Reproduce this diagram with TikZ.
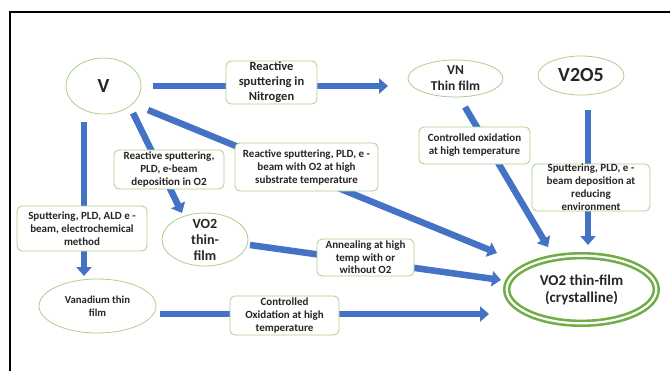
\documentclass[tikz,border=0pt]{standalone}
\usepackage{fontspec}
\setmainfont{Carlito}
\usetikzlibrary{shapes.geometric,arrows.meta,calc,backgrounds}
\definecolor{arrblue}{HTML}{4472C4}
\definecolor{lgreen}{HTML}{A9D18E}
\definecolor{dgreen}{HTML}{70AD47}
\definecolor{txt}{HTML}{262626}
\begin{document}
\begin{tikzpicture}[x=1pt,y=-1pt,
  arr/.style={draw=arrblue, line width=6.5pt, -{Triangle[width=15pt,length=9pt]}},
  box/.style={draw=lgreen, line width=0.8pt, fill=white, rounded corners=5pt,
    align=center, text=txt, inner sep=1pt,
    font=\bfseries\fontsize{11}{13}\selectfont},
  ell/.style={ellipse, draw=lgreen, line width=0.8pt, fill=white,
    align=center, inner sep=0pt, text=txt},
  frameline/.style={draw=black, line width=2.2pt}
]
\useasboundingbox (0,0) rectangle (670,370);

% ellipses
\node[ell, minimum width=75pt, minimum height=56pt,
  font=\bfseries\fontsize{20}{24}\selectfont] (V) at (103.5,86) {V};
\node[ell, minimum width=95pt, minimum height=37pt, inner ysep=-3pt,
  font=\bfseries\fontsize{13.5}{16}\selectfont] (VN) at (455.5,78.5) {VN\\Thin film};
\node[ell, minimum width=86pt, minimum height=39pt,
  font=\bfseries\fontsize{20}{24}\selectfont] (V2O5) at (581,75.5) {V2O5};
\node[ell, minimum width=86pt, minimum height=53pt, inner ysep=-5pt,
  font=\bfseries\fontsize{14}{16}\selectfont] (VOs) at (205,239.5) {VO2\\thin-\\film};
\node[ell, minimum width=117pt, minimum height=54pt,
  font=\bfseries\fontsize{10.7}{12.5}\selectfont] (Vfilm) at (97.5,306) {Vanadium thin\\film};
\node[ellipse, draw=dgreen, line width=2.6pt, double=white, double distance=2.2pt,
  fill=white, minimum width=149.6pt, minimum height=67.6pt, inner sep=0pt,
  align=center, text=txt, font=\bfseries\fontsize{15}{17}\selectfont]
  (Cryst) at (581.5,289.5) {VO2 thin-film\\(crystalline)};

% label boxes
\node[box, minimum width=91pt, minimum height=39pt,
  font=\bfseries\fontsize{12.5}{15}\selectfont] (B1) at (271.5,82.5)
  {Reactive\\sputtering in\\Nitrogen};
\node[box, minimum width=110pt, minimum height=39pt] (B2) at (169,169.5)
  {Reactive sputtering,\\PLD, e-beam\\deposition in O2};
\node[box, minimum width=143pt, minimum height=48pt] (B3) at (306.5,167)
  {Reactive sputtering, PLD, e -\\beam with O2 at high\\substrate temperature};
\node[box, minimum width=111pt, minimum height=37pt] (B4) at (474.5,145.5)
  {Controlled oxidation\\at high temperature};
\node[box, minimum width=118pt, minimum height=47pt, inner ysep=0pt] (B5) at (591,187.5)
  {Sputtering, PLD, e -\\beam deposition at\\reducing\\environment};
\node[box, minimum width=97pt, minimum height=37pt, inner ysep=0pt,
  font=\bfseries\fontsize{11}{12.5}\selectfont] (B6) at (365.5,257.5)
  {Annealing at high\\temp with or\\without O2};
\node[box, minimum width=130pt, minimum height=45pt] (B7) at (82,228.5)
  {Sputtering, PLD, ALD e -\\beam, electrochemical\\method};
\node[box, minimum width=109pt, minimum height=39pt] (B8) at (284.5,315.5)
  {Controlled\\Oxidation at high\\temperature};

\begin{pgfonlayer}{background}
  \fill[white] (0,0) rectangle (670,370);
  \draw[frameline] (10,372) -- (10,12) -- (672,12);
  \draw[arr] ($(V)+(49.5,0)$) -- ($(VN)+(-67.5,7.5)$);
  \draw[arr] ($(V)+(44.5,24)$) -- ($(Cryst)+(-84.5,-36.5)$);
  \draw[arr] ($(V)+(29.5,27)$) -- ($(VOs)+(-23,-26.5)$);
  \draw[arr] ($(V)+(-19.5,36)$) -- ($(Vfilm)+(-13.5,-30)$);
  \draw[arr] ($(VN)+(9.5,28.5)$) -- ($(Cryst)+(-33.5,-42.5)$);
  \draw[arr] ($(V2O5)+(7,34.5)$) -- ($(Cryst)+(6.5,-44.5)$);
  \draw[arr] ($(VOs)+(45,5.5)$) -- ($(Cryst)+(-80.5,-9.5)$);
  \draw[arr] ($(Vfilm)+(62.5,8)$) -- ($(Cryst)+(-92.5,24.5)$);
\end{pgfonlayer}
\end{tikzpicture}
\end{document}
